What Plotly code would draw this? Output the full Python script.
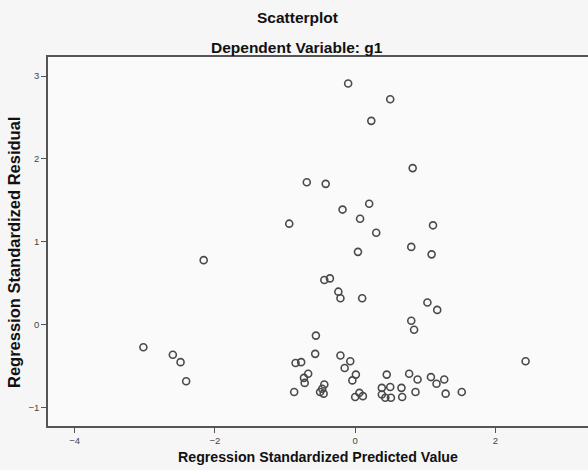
import plotly.graph_objects as go

# Regression Standardized Predicted Value
pred = [-0.10, 0.50, 0.23, 0.82, -0.69, -0.42, 0.20, -0.18, 0.07, -0.94,
        0.30, 1.11, 0.04, 0.80, 1.09, -2.16, -0.44, -0.36, -0.24, -0.21,
        0.10, 1.03, 1.17, 0.80, 0.84, -0.56, -3.02, -2.60, -2.49, -2.41,
        2.43, -0.57, -0.85, -0.77, -0.21, -0.07, -0.15, -0.67, -0.73, -0.72,
        0.01, -0.04, -0.87, -0.44, -0.47, -0.50, -0.45, 0.00, 0.06, 0.11,
        0.45, 0.77, 0.89, 1.08, 1.16, 1.27, 0.38, 0.50, 0.66, 0.38,
        0.43, 0.51, 0.67, 0.86, 1.29, 1.52]
# Regression Standardized Residual
resid = [2.91, 2.72, 2.46, 1.89, 1.72, 1.70, 1.46, 1.39, 1.28, 1.22,
         1.11, 1.20, 0.88, 0.94, 0.85, 0.78, 0.54, 0.56, 0.40, 0.32,
         0.32, 0.27, 0.18, 0.05, -0.06, -0.13, -0.27, -0.36, -0.45, -0.68,
         -0.44, -0.35, -0.46, -0.45, -0.37, -0.44, -0.52, -0.59, -0.64, -0.70,
         -0.60, -0.67, -0.81, -0.72, -0.77, -0.81, -0.83, -0.87, -0.82, -0.86,
         -0.60, -0.59, -0.66, -0.63, -0.71, -0.66, -0.76, -0.75, -0.76, -0.84,
         -0.88, -0.88, -0.87, -0.81, -0.83, -0.81]

x_ticks = [-4, -2, 0, 2]
y_ticks = [-1, 0, 1, 2, 3]

L, T, B = 48, 57, 44
PW = 588 - L
PH = 470 - T - B

SANS = "Liberation Sans, Arial"

fig = go.Figure()
fig.add_trace(go.Scatter(
    x=pred, y=resid, mode="markers",
    marker=dict(symbol="circle-open", size=7, color="#4a4a4a",
                line=dict(width=1.6, color="#4a4a4a")),
    showlegend=False, hoverinfo="skip"))

axis_font = dict(family=SANS, size=9.5, color="#444")
fig.update_layout(
    width=588, height=470,
    margin=dict(l=L, r=0, t=T, b=B),
    paper_bgcolor="#f6f6f6", plot_bgcolor="#fafafa",
    font=dict(family=SANS, color="#222"),
    xaxis=dict(range=[-4.38, 3.32], tickvals=x_ticks, ticks="outside",
               ticklen=5, tickcolor="#555", tickwidth=1.2,
               showgrid=False, zeroline=False, showline=True,
               linecolor="#555", linewidth=1.5, mirror=True,
               tickfont=axis_font, automargin=False),
    yaxis=dict(range=[-1.22, 3.23], tickvals=y_ticks, ticks="outside",
               ticklen=5, tickcolor="#555", tickwidth=1.2,
               showgrid=False, zeroline=False, showline=True,
               linecolor="#555", linewidth=1.5, mirror=False,
               tickfont=axis_font, automargin=False),
)

fig.add_annotation(text="<b>Scatterplot</b>", xref="paper", yref="paper",
                   x=(297 - L) / PW, y=1 + (T - 18) / PH, yanchor="middle",
                   showarrow=False, font=dict(family=SANS, size=15.5, color="#111"))
fig.add_annotation(text="<b>Dependent Variable: g1</b>", xref="paper", yref="paper",
                   x=(297 - L) / PW, y=1 + (T - 47) / PH, yanchor="middle",
                   showarrow=False, font=dict(family=SANS, size=15.5, color="#111"))
fig.add_annotation(text="<b>Regression Standardized Predicted Value</b>",
                   xref="paper", yref="paper", x=(318 - L) / PW,
                   y=-(457 - (470 - B)) / PH,
                   yanchor="middle", showarrow=False,
                   font=dict(family=SANS, size=14.2, color="#111"))
fig.add_annotation(text="<b>Regression Standardized Residual</b>",
                   xref="paper", yref="paper", x=-(L - 14) / PW,
                   y=(470 - B - 253) / PH,
                   xanchor="center", yanchor="middle", textangle=-90,
                   showarrow=False,
                   font=dict(family=SANS, size=16.5, color="#111"))

fig.write_html("out.html", config={"displayModeBar": False},
               post_script="document.body.style.margin='0';document.body.style.overflow='hidden';")
